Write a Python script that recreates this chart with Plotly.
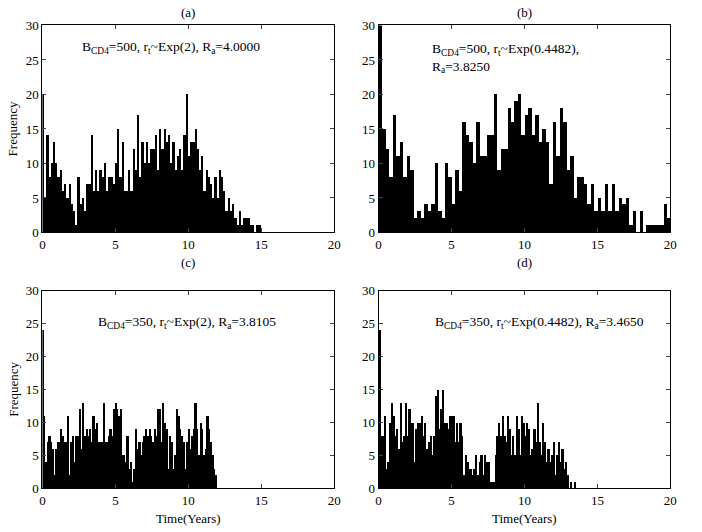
import plotly.graph_objects as go

# ---- data (bar heights) ----
a_max = 15.0
a_counts = [20, 5, 14, 8, 10, 13, 10, 8, 9, 6, 7, 5, 7, 4, 3, 1, 8, 4, 5, 3, 7, 7, 14, 6, 9,
            6, 9, 8, 10, 6, 8, 8, 7, 10, 15, 8, 13, 6, 6, 9, 6, 12, 9, 17, 8, 13, 10,
            13, 10, 12, 12, 14, 9, 15, 12, 15, 13, 14, 10, 13, 9, 11, 12, 9, 14, 20, 11, 13, 13,
            15, 12, 9, 11, 6, 9, 8, 7, 5, 8, 5, 9, 8, 6, 3, 5, 3, 4, 2, 1, 3, 1, 2, 2, 2, 1,
            1, 0, 1, 1]

b_max = 20.0
b_counts = [30, 15, 12, 8, 17, 11, 13, 8, 11, 9, 2, 3, 2, 4, 3, 4, 10, 3, 2, 10, 8, 4, 9, 6,
            16, 14, 13, 10, 16, 11, 11, 14, 14, 20, 9, 12, 12, 18, 16, 19, 20, 14, 17, 18,
            14, 17, 13, 15, 13, 7, 16, 11, 18, 16, 9, 11, 5, 8, 8, 7, 4, 7, 3, 5, 3, 7, 3,
            7, 3, 5, 4, 5, 1, 3, 0, 3, 0, 1, 1, 1, 1, 1, 4, 2]

c_max = 12.0
c_counts = [24, 11, 4, 7, 8, 7, 6, 2, 6, 7, 7, 9, 8, 7, 7, 11, 2, 7, 8, 4, 8, 8, 12, 6, 13,
            8, 9, 8, 9, 7, 11, 9, 10, 7, 7, 7, 13, 7, 7, 8, 9, 8, 12, 13, 12, 11,
            12, 5, 5, 4, 8, 3, 4, 1, 3, 9, 6, 7, 5, 7, 8, 9, 8, 9, 8, 7, 9, 8, 12, 12, 7,
            13, 10, 9, 3, 8, 7, 3, 5, 12, 11, 9, 8, 7, 3, 7, 9, 6, 8, 9, 13, 9, 5, 10, 9,
            5, 6, 11, 9, 7, 5, 3, 2]

d_max = 13.5
d_counts = [24, 8, 8, 11, 3, 4, 10, 13, 11, 8, 9, 6, 13, 7, 8, 13, 8, 12, 10, 10, 4, 9, 10,
            10, 11, 8, 10, 6, 7, 8, 5, 8, 14, 15, 9, 12, 15, 10, 10, 9, 11, 11, 11, 7, 10, 7, 10,
            8, 2, 5, 4, 3, 3, 2, 3, 5, 2, 4, 5, 2, 5, 4, 4, 1, 1, 1, 5, 8, 10, 8, 11, 8, 7,
            11, 9, 5, 8, 5, 11, 9, 5, 11, 10, 8, 10, 9, 5, 6, 9, 7, 13, 7, 5, 10, 7, 4, 6, 4,
            5, 7, 2, 5, 7, 4, 6, 3, 4, 2, 0, 1, 0, 1]

panel_titles = ["(a)", "(b)", "(c)", "(d)"]
x_ticks = [0, 5, 10, 15, 20]
y_ticks = [0, 5, 10, 15, 20, 25, 30]

FONT = "Liberation Serif"

fig = go.Figure()

panels = [(a_counts, a_max), (b_counts, b_max), (c_counts, c_max), (d_counts, d_max)]
for i, (counts, xmax) in enumerate(panels):
    n = len(counts)
    w = xmax / n
    centers = [w * (k + 0.5) for k in range(n)]
    sfx = "" if i == 0 else str(i + 1)
    fig.add_trace(go.Bar(x=centers, y=counts, width=w,
                         marker=dict(color="black", line=dict(width=0)),
                         xaxis="x" + sfx, yaxis="y" + sfx, showlegend=False,
                         hoverinfo="skip"))

W, H = 702, 532
left_dom = [40 / W, 336 / W]
right_dom = [381 / W, 677 / W]
top_dom = [1 - 232 / H, 1 - 19 / H]
bot_dom = [1 - 495 / H, 1 - 292 / H]

def xax(dom, anchor):
    return dict(domain=dom, anchor=anchor, range=[0, 20], tickvals=x_ticks,
                ticks="inside", ticklen=4, showline=True, mirror="ticks",
                linecolor="black", linewidth=1, showgrid=False, zeroline=False,
                tickfont=dict(family=FONT, size=13, color="black"))

def yax(dom, anchor):
    return dict(domain=dom, anchor=anchor, range=[0, 30], tickvals=y_ticks,
                ticks="inside", ticklen=4, showline=True, mirror="ticks",
                linecolor="black", linewidth=1, showgrid=False, zeroline=False,
                tickfont=dict(family=FONT, size=13, color="black"))

fig.update_layout(
    width=W, height=H, margin=dict(l=0, r=0, t=0, b=0),
    paper_bgcolor="white", plot_bgcolor="white", bargap=0,
    font=dict(family=FONT, size=13, color="black"),
    xaxis=xax(left_dom, "y"), yaxis=yax(top_dom, "x"),
    xaxis2=xax(right_dom, "y2"), yaxis2=yax(top_dom, "x2"),
    xaxis3=xax(left_dom, "y3"), yaxis3=yax(bot_dom, "x3"),
    xaxis4=xax(right_dom, "y4"), yaxis4=yax(bot_dom, "x4"),
)

ann = []
title_shift = [3, 3, 19, 19]
for i, t in enumerate(panel_titles):
    sfx = "" if i == 0 else str(i + 1)
    ann.append(dict(text=t, xref="x" + sfx + " domain", yref="y" + sfx + " domain",
                    x=0.5, y=1, xanchor="center", yanchor="bottom", yshift=title_shift[i],
                    showarrow=False, font=dict(family=FONT, size=13)))
for sfx in ["", "3"]:
    ann.append(dict(text="Frequency", xref="x" + sfx + " domain", yref="y" + sfx + " domain",
                    x=0, y=0.5, xanchor="center", yanchor="middle", xshift=-29,
                    textangle=-90, showarrow=False, font=dict(family=FONT, size=13)))
for sfx in ["3", "4"]:
    ann.append(dict(text="Time(Years)", xref="x" + sfx + " domain", yref="y" + sfx + " domain",
                    x=0.5, y=0, xanchor="center", yanchor="top", yshift=-21,
                    showarrow=False, font=dict(family=FONT, size=13)))

TS = 13.5
ann.append(dict(text="B<sub>CD4</sub>=500, r<sub>t</sub>~Exp(2), R<sub>a</sub>=4.0000",
                xref="x", yref="y", x=2.6, y=26.8, xanchor="left", showarrow=False,
                font=dict(family=FONT, size=TS)))
ann.append(dict(text="B<sub>CD4</sub>=500, r<sub>t</sub>~Exp(0.4482),<br>R<sub>a</sub>=3.8250",
                xref="x2", yref="y2", x=3.5, y=25.3, xanchor="left", align="left",
                showarrow=False, font=dict(family=FONT, size=TS)))
ann.append(dict(text="B<sub>CD4</sub>=350, r<sub>t</sub>~Exp(2), R<sub>a</sub>=3.8105",
                xref="x3", yref="y3", x=3.7, y=25.2, xanchor="left", showarrow=False,
                font=dict(family=FONT, size=TS)))
ann.append(dict(text="B<sub>CD4</sub>=350, r<sub>t</sub>~Exp(0.4482), R<sub>a</sub>=3.4650",
                xref="x4", yref="y4", x=3.7, y=25.2, xanchor="left", showarrow=False,
                font=dict(family=FONT, size=TS)))

fig.update_layout(annotations=ann)
fig.write_html("out.html", config={"displayModeBar": False},
               post_script="document.body.style.margin='0px';")
